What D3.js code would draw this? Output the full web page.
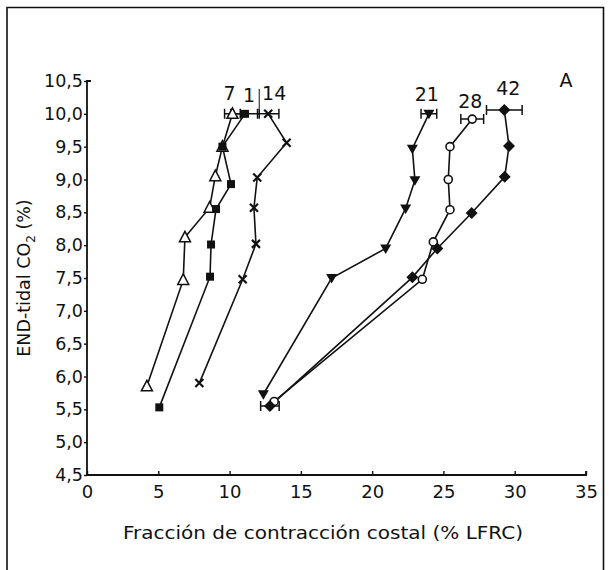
<!DOCTYPE html>
<html><head><meta charset="utf-8">
<script src="https://cdn.jsdelivr.net/npm/d3@7"></script>
<style>body{margin:0;background:#fff}svg{display:block}text{font-family:"DejaVu Sans",Arial,sans-serif;fill:#111}</style>
</head><body><svg id="c" width="609" height="570"></svg>
<script>
// ---- data ----
const seriesNames = ["7", "1", "14", "21", "28", "42"];
const markers = ["triangleOpen", "squareFilled", "cross", "triangleDownFilled", "circleOpen", "diamondFilled"];
const s7x  = [4.2, 6.75, 6.87, 8.6, 9.0, 9.5, 10.2];
const s7y  = [5.85, 7.47, 8.12, 8.57, 9.05, 9.5, 10.0];
const s1x  = [5.07, 8.63, 8.7, 9.05, 10.1, 9.5, 11.08];
const s1y  = [5.53, 7.52, 8.01, 8.55, 8.93, 9.5, 10.0];
const s14x = [7.88, 10.92, 11.85, 11.71, 11.94, 14.0, 12.71];
const s14y = [5.9, 7.48, 8.02, 8.57, 9.03, 9.56, 10.0];
const s21x = [12.37, 17.16, 20.95, 22.35, 23.0, 22.82, 23.98];
const s21y = [5.73, 7.5, 7.95, 8.56, 8.99, 9.47, 10.0];
const s28x = [13.13, 23.52, 24.29, 25.46, 25.34, 25.46, 27.02];
const s28y = [5.62, 7.48, 8.05, 8.54, 9.0, 9.5, 9.92];
const s42x = [12.83, 22.82, 24.57, 26.98, 29.3, 29.6, 29.27];
const s42y = [5.55, 7.51, 7.95, 8.49, 9.04, 9.51, 10.06];
// horizontal error (± % LFRC) per point, 0 = none
const s7e  = [0, 0, 0, 0, 0, 0, 0.55];
const s1e  = [0, 0, 0, 0, 0, 0, 1.0];
const s14e = [0, 0, 0, 0, 0, 0, 0.75];
const s21e = [0, 0, 0, 0, 0, 0, 0.55];
const s28e = [0, 0, 0, 0, 0, 0, 0.8];
const s42e = [0.65, 0, 0, 0, 0, 0, 1.25];
const xTicks = [0, 5, 10, 15, 20, 25, 30, 35];
const yTicks = [4.5, 5.0, 5.5, 6.0, 6.5, 7.0, 7.5, 8.0, 8.5, 9.0, 9.5, 10.0, 10.5];
const xTitle = "Fracción de contracción costal (% LFRC)";
const panelLabel = "A";

const seriesX = [s7x, s1x, s14x, s21x, s28x, s42x];
const seriesY = [s7y, s1y, s14y, s21y, s28y, s42y];
const seriesE = [s7e, s1e, s14e, s21e, s28e, s42e];

// ---- drawing ----
const svg = d3.select("#c");
const x = d3.scaleLinear().domain([0, 35]).range([87, 586]);
const y = d3.scaleLinear().domain([4.5, 10.5]).range([475, 81]);
const ink = "#111";
const FONT = '"DejaVu Sans",Arial,sans-serif';

// frame
svg.append("path").attr("d", "M7,575 V7.5 H603.5 V575").attr("fill", "none").attr("stroke", ink).attr("stroke-width", 1.6);

// axes
const xAxis = d3.axisBottom(x).tickValues(xTicks).tickSize(-4).tickPadding(10).tickFormat(d3.format("d"));
const gx = svg.append("g").attr("transform", `translate(0,${y(4.5)})`).call(xAxis);
gx.select(".domain").attr("d", `M${x(0)},0H${x(35)}V-4`).attr("stroke", ink).attr("stroke-width", 1.8);
gx.selectAll(".tick line").attr("stroke", ink).attr("stroke-width", 1.4);
gx.selectAll(".tick text").attr("font-size", 18).attr("fill", ink).attr("font-family", FONT);

const yAxis = d3.axisLeft(y).tickValues(yTicks).tickSize(3).tickPadding(1)
  .tickFormat(d => d3.format(".1f")(d).replace(".", ","));
const gy = svg.append("g").attr("transform", `translate(${x(0)},0)`).call(yAxis);
gy.select(".domain").attr("d", `M4,${y(10.5)}H0V${y(4.5)}`).attr("stroke", ink).attr("stroke-width", 1.8);
gy.selectAll(".tick line").attr("stroke", ink).attr("stroke-width", 1.4);
gy.selectAll(".tick text").attr("font-size", 17.5).attr("fill", ink).attr("font-family", FONT);

// titles
svg.append("text").attr("x", 323).attr("y", 539).attr("text-anchor", "middle").attr("font-size", 18)
  .attr("textLength", 400).attr("lengthAdjust", "spacingAndGlyphs").text(xTitle);
const yt = svg.append("text").attr("transform", `translate(30,${y(7.5)}) rotate(-90)`).attr("text-anchor", "middle").attr("font-size", 17.5);
yt.append("tspan").text("END-tidal CO");
yt.append("tspan").attr("font-size", 12).attr("dy", 5).text("2");
yt.append("tspan").attr("dy", -5).text(" (%)");
svg.append("text").attr("x", 566).attr("y", 87).attr("text-anchor", "middle").attr("font-size", 19).text(panelLabel);

// symbols
function drawMarker(g, type, cx, cy) {
  const m = g.append("g").attr("transform", `translate(${cx},${cy})`);
  if (type === "triangleOpen") {
    m.append("path").attr("d", "M0,-6L5.5,4.5L-5.5,4.5Z").attr("fill", "#fff").attr("stroke", ink).attr("stroke-width", 1.5);
  } else if (type === "squareFilled") {
    m.append("rect").attr("x", -4).attr("y", -4).attr("width", 8).attr("height", 8).attr("fill", ink);
  } else if (type === "cross") {
    m.append("path").attr("d", "M-4,-4L4,4M4,-4L-4,4").attr("stroke", ink).attr("stroke-width", 2.2);
  } else if (type === "triangleDownFilled") {
    m.append("path").attr("d", "M-5.5,-4L5.5,-4L0,5.5Z").attr("fill", ink);
  } else if (type === "circleOpen") {
    m.append("circle").attr("r", 4).attr("fill", "#fff").attr("stroke", ink).attr("stroke-width", 1.6);
  } else if (type === "diamondFilled") {
    m.append("path").attr("d", "M0,-6L6,0L0,6L-6,0Z").attr("fill", ink);
  }
}

const line = d3.line().x(d => x(d[0])).y(d => y(d[1]));
seriesX.forEach((xs, i) => {
  const pts = xs.map((v, j) => [v, seriesY[i][j], seriesE[i][j]]);
  const g = svg.append("g");
  g.append("path").datum(pts).attr("d", line).attr("fill", "none").attr("stroke", ink).attr("stroke-width", 1.6);
  pts.forEach(p => {
    if (p[2] > 0) {
      const x0 = x(p[0] - p[2]), x1 = x(p[0] + p[2]), yy = y(p[1]);
      g.append("path").attr("d", `M${x0},${yy}H${x1}M${x0},${yy - 5}V${yy + 5}M${x1},${yy - 5}V${yy + 5}`)
        .attr("stroke", ink).attr("stroke-width", 1.5).attr("fill", "none");
    }
  });
});
// label nudges (pixels) so the crowded labels sit as in the original
const labelDx = [-3, 4, 6, -2, -2, 4];
const labelDy = [-14, -12, -14, -13, -11, -15];
seriesX.forEach((xs, i) => {
  const g = svg.append("g");
  xs.forEach((v, j) => drawMarker(g, markers[i], x(v), y(seriesY[i][j])));
  const last = xs.length - 1;
  svg.append("text").attr("x", x(xs[last]) + labelDx[i]).attr("y", y(seriesY[i][last]) + labelDy[i])
    .attr("text-anchor", "middle").attr("font-size", 19).text(seriesNames[i]);
});
// thin vertical stroke between labels "1" and "14" (extension of the error-bar cap)
svg.append("line").attr("x1", x(s1x[6] + s1e[6])).attr("x2", x(s1x[6] + s1e[6]))
  .attr("y1", y(s1y[6]) - 5).attr("y2", y(s1y[6]) - 25).attr("stroke", ink).attr("stroke-width", 1);
</script></body></html>
